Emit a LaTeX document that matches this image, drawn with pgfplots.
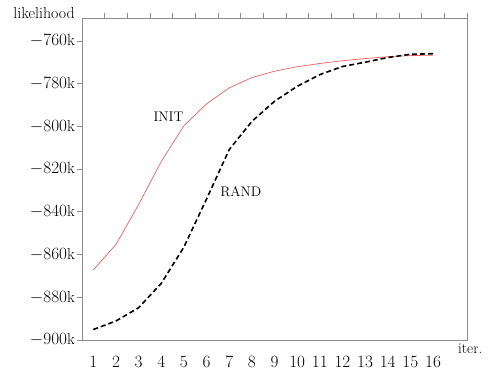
\documentclass[border=0pt]{standalone}
\usepackage{pgfplots}
\pgfplotsset{compat=1.18}
\definecolor{initred}{RGB}{240,95,95}
\definecolor{axgray}{RGB}{140,140,140}
\begin{document}
\begin{tikzpicture}
\begin{axis}[
  scale only axis,
  width=385bp, height=322bp,
  xmin=0.5, xmax=17.5,
  ymin=-900, ymax=-749.3,
  axis line style={axgray, line width=0.6bp},
  tick style={axgray, line width=0.6bp},
  tick align=outside,
  major tick length=5bp,
  minor tick length=5bp,
  xtick={1,...,16},
  minor xtick={1.5,2.5,...,17.5},
  xtick pos=top,
  xticklabel pos=bottom,
  major x tick style={draw=none},
  ytick={-900,-880,...,-760},
  ytick pos=left,
  yticklabel={$\pgfmathprintnumber{\tick}$k},
  xticklabel style={anchor=base, yshift=-22bp, inner sep=0pt, font=\fontsize{16}{18}\selectfont},
  yticklabel style={anchor=east, inner sep=0pt, xshift=-2bp, font=\fontsize{16}{18}\selectfont},
  clip=false,
]
\addplot[initred, line width=0.7bp] coordinates {
  (1,-867.2) (2,-855.3) (3,-836.6) (4,-816.5) (5,-799.7) (6,-789.5)
  (7,-782.0) (8,-777.2) (9,-774.2) (10,-772.1) (11,-770.6) (12,-769.3)
  (13,-768.3) (14,-767.4) (15,-766.9) (16,-766.7)
};
\addplot[black, line width=1.6bp, dash pattern=on 5bp off 3bp] coordinates {
  (1,-895.1) (2,-891.1) (3,-884.9) (4,-873.5) (5,-856.5) (6,-834.0)
  (7,-810.9) (8,-797.7) (9,-788.3) (10,-781.3) (11,-775.8) (12,-772.0)
  (13,-770.0) (14,-767.8) (15,-766.3) (16,-766.0)
};
\node[anchor=base west, inner sep=0pt, font=\fontsize{14}{16}\selectfont] at (axis cs:3.65,-797.8) {INIT};
\node[anchor=base west, inner sep=0pt, font=\fontsize{14}{16}\selectfont] at (axis cs:6.6,-832.7) {RAND};
\node[anchor=base east, inner sep=0pt, font=\fontsize{16}{18}\selectfont] at ([xshift=-7bp,yshift=-1bp]rel axis cs:0,1) {likelihood};
\node[anchor=base west, inner sep=0pt, font=\fontsize{15}{17}\selectfont] at ([xshift=-9bp,yshift=-13bp]rel axis cs:1,0) {iter.};
\end{axis}
\pgfresetboundingbox
\useasboundingbox (current axis.south west) ++(-82bp,-36bp) rectangle ([xshift=21bp,yshift=18bp]current axis.north east);
\end{tikzpicture}
\end{document}
